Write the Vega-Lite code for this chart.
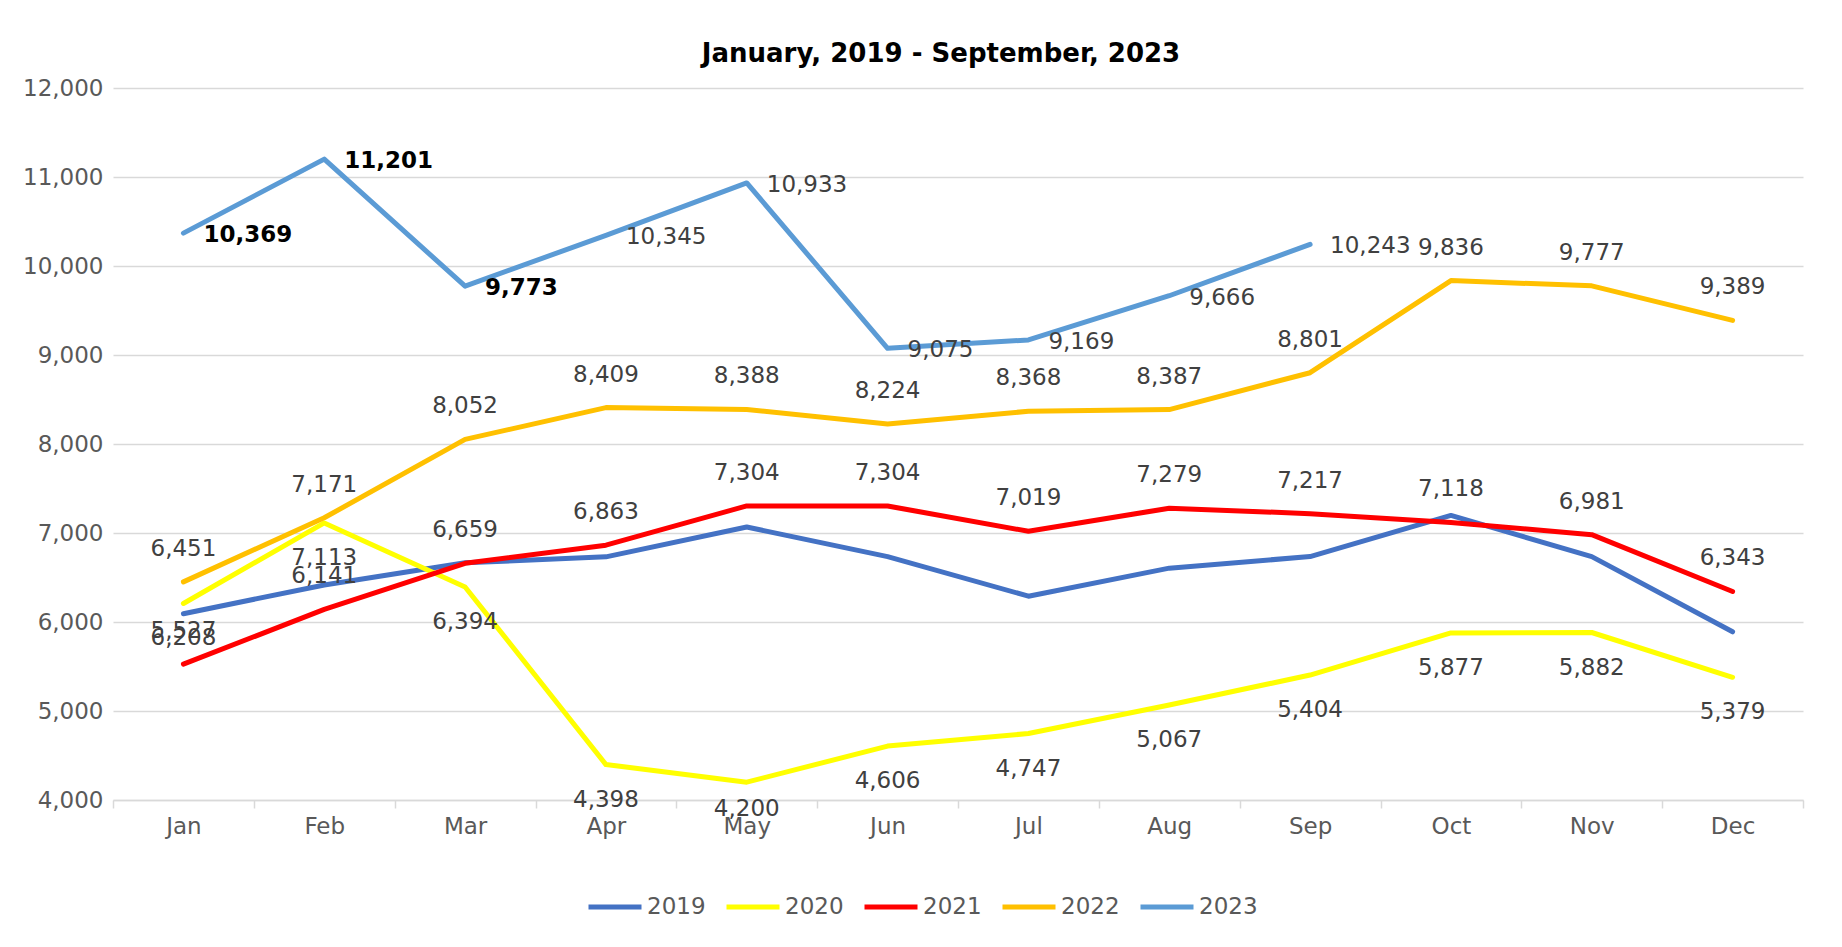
{
  "$schema": "https://vega.github.io/schema/vega-lite/v6.json",
  "autosize": {"type": "none"},
  "width": 1690,
  "height": 712,
  "padding": {"left": 113, "top": 88, "right": 39, "bottom": 147},
  "background": "white",
  "config": {
    "font": "DejaVu Sans",
    "view": {"stroke": null}
  },
  "title": {
    "text": "January, 2019 - September, 2023",
    "fontSize": 26,
    "fontWeight": "bold",
    "color": "#000000",
    "anchor": "middle",
    "offset": 10,
    "dx": -17
  },
  "data": {
    "values": [
      {"year": "2019", "month": "Jan", "value": 6093},
      {"year": "2019", "month": "Feb", "value": 6416},
      {"year": "2019", "month": "Mar", "value": 6665},
      {"year": "2019", "month": "Apr", "value": 6732},
      {"year": "2019", "month": "May", "value": 7067},
      {"year": "2019", "month": "Jun", "value": 6735},
      {"year": "2019", "month": "Jul", "value": 6290},
      {"year": "2019", "month": "Aug", "value": 6605},
      {"year": "2019", "month": "Sep", "value": 6735},
      {"year": "2019", "month": "Oct", "value": 7197},
      {"year": "2019", "month": "Nov", "value": 6735},
      {"year": "2019", "month": "Dec", "value": 5890},
      {"year": "2020", "month": "Jan", "value": 6208},
      {"year": "2020", "month": "Feb", "value": 7113},
      {"year": "2020", "month": "Mar", "value": 6394},
      {"year": "2020", "month": "Apr", "value": 4398},
      {"year": "2020", "month": "May", "value": 4200},
      {"year": "2020", "month": "Jun", "value": 4606},
      {"year": "2020", "month": "Jul", "value": 4747},
      {"year": "2020", "month": "Aug", "value": 5067},
      {"year": "2020", "month": "Sep", "value": 5404},
      {"year": "2020", "month": "Oct", "value": 5877},
      {"year": "2020", "month": "Nov", "value": 5882},
      {"year": "2020", "month": "Dec", "value": 5379},
      {"year": "2021", "month": "Jan", "value": 5527},
      {"year": "2021", "month": "Feb", "value": 6141},
      {"year": "2021", "month": "Mar", "value": 6659},
      {"year": "2021", "month": "Apr", "value": 6863},
      {"year": "2021", "month": "May", "value": 7304},
      {"year": "2021", "month": "Jun", "value": 7304},
      {"year": "2021", "month": "Jul", "value": 7019},
      {"year": "2021", "month": "Aug", "value": 7279},
      {"year": "2021", "month": "Sep", "value": 7217},
      {"year": "2021", "month": "Oct", "value": 7118},
      {"year": "2021", "month": "Nov", "value": 6981},
      {"year": "2021", "month": "Dec", "value": 6343},
      {"year": "2022", "month": "Jan", "value": 6451},
      {"year": "2022", "month": "Feb", "value": 7171},
      {"year": "2022", "month": "Mar", "value": 8052},
      {"year": "2022", "month": "Apr", "value": 8409},
      {"year": "2022", "month": "May", "value": 8388},
      {"year": "2022", "month": "Jun", "value": 8224},
      {"year": "2022", "month": "Jul", "value": 8368},
      {"year": "2022", "month": "Aug", "value": 8387},
      {"year": "2022", "month": "Sep", "value": 8801},
      {"year": "2022", "month": "Oct", "value": 9836},
      {"year": "2022", "month": "Nov", "value": 9777},
      {"year": "2022", "month": "Dec", "value": 9389},
      {"year": "2023", "month": "Jan", "value": 10369},
      {"year": "2023", "month": "Feb", "value": 11201},
      {"year": "2023", "month": "Mar", "value": 9773},
      {"year": "2023", "month": "Apr", "value": 10345},
      {"year": "2023", "month": "May", "value": 10933},
      {"year": "2023", "month": "Jun", "value": 9075},
      {"year": "2023", "month": "Jul", "value": 9169},
      {"year": "2023", "month": "Aug", "value": 9666},
      {"year": "2023", "month": "Sep", "value": 10243}
    ]
  },
  "encoding": {
    "x": {
      "field": "month",
      "type": "ordinal",
      "sort": ["Jan", "Feb", "Mar", "Apr", "May", "Jun", "Jul", "Aug", "Sep", "Oct", "Nov", "Dec"],
      "bandPosition": 0.5,
      "scale": {"type": "band", "paddingInner": 0, "paddingOuter": 0},
      "axis": {
        "title": null,
        "labelAngle": 0,
        "labelFontSize": 23,
        "labelColor": "#595959",
        "labelPadding": 7,
        "tickBand": "extent",
        "ticks": true,
        "tickSize": 8,
        "tickColor": "#D9D9D9",
        "tickWidth": 1.5,
        "domainColor": "#D9D9D9",
        "domainWidth": 1.5,
        "grid": false
      }
    },
    "y": {
      "field": "value",
      "type": "quantitative",
      "scale": {"domain": [4000, 12000], "nice": false, "zero": false},
      "axis": {
        "title": null,
        "values": [4000, 5000, 6000, 7000, 8000, 9000, 10000, 11000, 12000],
        "format": ",.0f",
        "labelFontSize": 23,
        "labelColor": "#595959",
        "labelPadding": 10,
        "domain": false,
        "ticks": false,
        "grid": true,
        "gridColor": "#D9D9D9",
        "gridWidth": 1.5
      }
    }
  },
  "layer": [
    {
      "mark": {"type": "line", "strokeWidth": 5, "strokeCap": "round", "strokeJoin": "round"},
      "encoding": {
        "color": {
          "field": "year",
          "type": "nominal",
          "scale": {
            "domain": ["2019", "2020", "2021", "2022", "2023"],
            "range": ["#4472C4", "#FFFF00", "#FF0000", "#FFC000", "#5B9BD5"]
          },
          "legend": {
            "title": null,
            "orient": "none",
            "legendX": 473,
            "legendY": 790,
            "direction": "horizontal",
            "symbolType": "stroke",
            "symbolSize": 2809,
            "symbolStrokeWidth": 5,
            "labelFontSize": 23,
            "labelColor": "#595959",
            "labelOffset": 3,
            "columnPadding": 10
          }
        }
      }
    },
    {
      "transform": [{"filter": {"field": "year", "oneOf": ["2021", "2022"]}}],
      "mark": {"type": "text", "dy": -33, "fontSize": 23, "color": "#404040", "baseline": "middle", "align": "center"},
      "encoding": {"text": {"field": "value", "type": "quantitative", "format": ","}}
    },
    {
      "transform": [
        {"filter": {"field": "year", "equal": "2020"}},
        {"filter": {"not": {"field": "month", "equal": "May"}}}
      ],
      "mark": {"type": "text", "dy": 35, "fontSize": 23, "color": "#404040", "baseline": "middle", "align": "center"},
      "encoding": {"text": {"field": "value", "type": "quantitative", "format": ","}}
    },
    {
      "transform": [
        {"filter": {"field": "year", "equal": "2020"}},
        {"filter": {"field": "month", "equal": "May"}}
      ],
      "mark": {"type": "text", "dy": 27, "fontSize": 23, "color": "#404040", "baseline": "middle", "align": "center"},
      "encoding": {"text": {"field": "value", "type": "quantitative", "format": ","}}
    },
    {
      "transform": [
        {"filter": {"field": "year", "equal": "2023"}},
        {"filter": {"field": "month", "oneOf": ["Jan", "Feb", "Mar"]}}
      ],
      "mark": {"type": "text", "dx": 20, "dy": 2, "fontSize": 23, "fontWeight": "bold", "color": "#000000", "baseline": "middle", "align": "left"},
      "encoding": {"text": {"field": "value", "type": "quantitative", "format": ","}}
    },
    {
      "transform": [
        {"filter": {"field": "year", "equal": "2023"}},
        {"filter": {"not": {"field": "month", "oneOf": ["Jan", "Feb", "Mar"]}}}
      ],
      "mark": {"type": "text", "dx": 20, "dy": 2, "fontSize": 23, "color": "#404040", "baseline": "middle", "align": "left"},
      "encoding": {"text": {"field": "value", "type": "quantitative", "format": ","}}
    }
  ]
}
